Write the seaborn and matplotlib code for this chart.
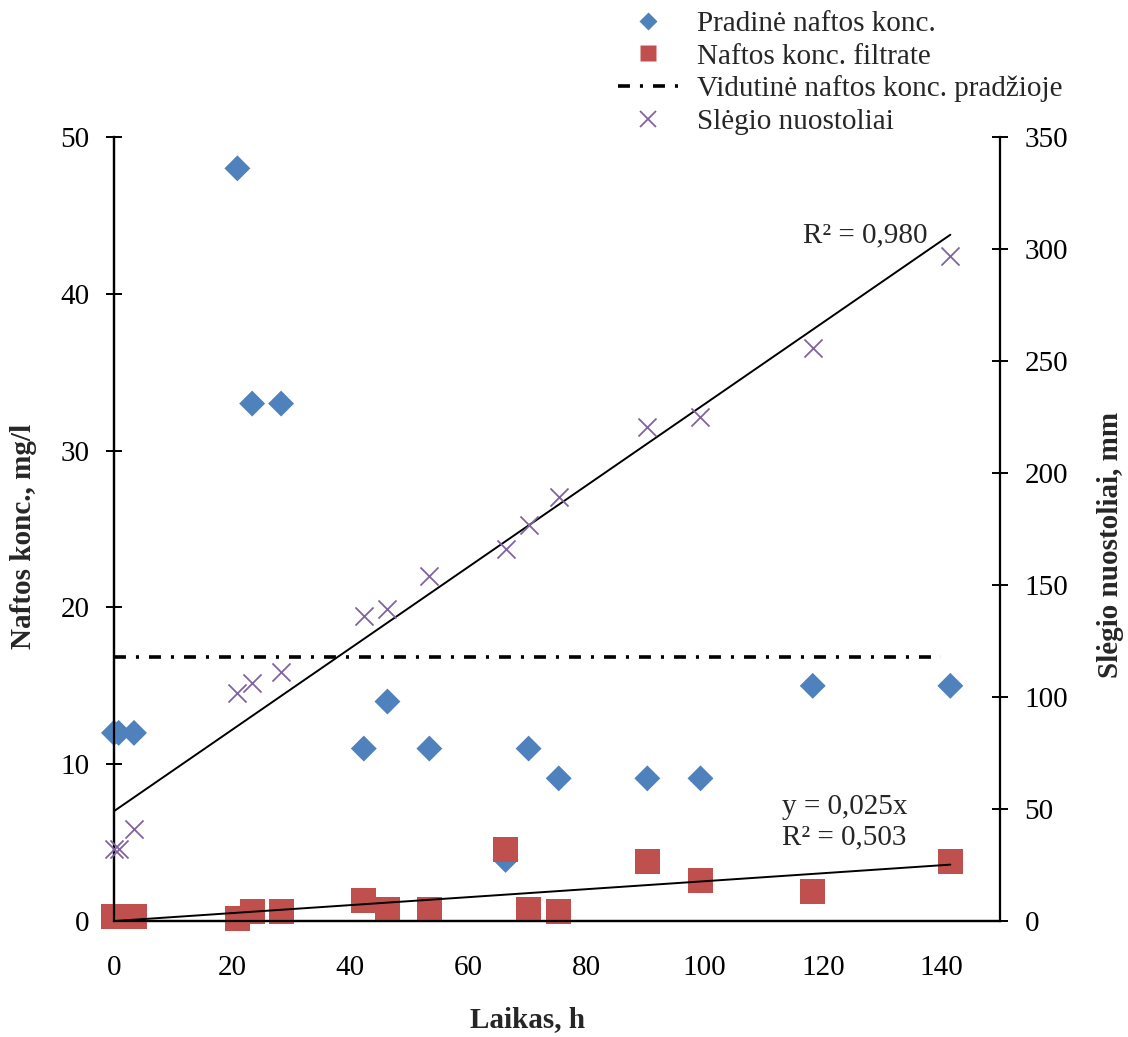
import numpy as np
import pandas as pd
import matplotlib
matplotlib.use("Agg")
import matplotlib.pyplot as plt
from matplotlib.lines import Line2D
import seaborn as sns

# ---------------- data ----------------
time_h = [0, 0.8, 3.4, 20.9, 23.4, 28.3, 42.3, 46.3, 53.4, 66.3, 70.2, 75.3, 90.3, 99.3, 118.3, 141.6]
initial_conc = [12, 12, 12, 48, 33, 33, 11, 14, 11, 3.9, 11, 9.1, 9.1, 9.1, 15, 15]
filtrate_conc = [0.27, 0.27, 0.27, 0.17, 0.59, 0.59, 1.28, 0.75, 0.75, 4.59, 0.75, 0.64, 3.78, 2.57, 1.87, 3.78]
pressure_loss = [32, 32, 41.1, 101.7, 106.1, 111, 136.2, 139.2, 154.1, 166.1, 176.8, 189.3, 220.4, 225.1, 255.9, 297]
avg_x = [0, 140]
avg_conc = [16.85, 16.85]

labels = ["Pradinė naftos konc.", "Naftos konc. filtrate",
          "Vidutinė naftos konc. pradžioje", "Slėgio nuostoliai"]
eq_filtrate = "y = 0,025x\nR² = 0,503"
eq_pressure = "R² = 0,980"
x_ticks = [0, 20, 40, 60, 80, 100, 120, 140]
y_ticks = [0, 10, 20, 30, 40, 50]
y2_ticks = [0, 50, 100, 150, 200, 250, 300, 350]

df = pd.DataFrame({"t": time_h, "init": initial_conc, "filt": filtrate_conc, "dp": pressure_loss})
avg_df = pd.DataFrame({"t": avg_x, "c": avg_conc})

# ---------------- style ----------------
sns.set_style("white")
plt.rcParams["font.family"] = ["Liberation Serif", "DejaVu Serif"]
plt.rcParams["lines.scale_dashes"] = False

BLUE = "#4F81BD"
RED = "#C0504D"
PURPLE = "#8064A2"
FS = 21

fig = plt.figure(figsize=(11.28, 10.37), dpi=100)
ax = fig.add_axes([0.101, 0.1118, 0.7855, 0.7561])
ax2 = ax.twinx()

# left axis series
sns.scatterplot(data=df, x="t", y="init", ax=ax, marker="D", s=13.2 ** 2, color=BLUE,
                edgecolor="none", clip_on=False, zorder=3)
sns.scatterplot(data=df, x="t", y="filt", ax=ax, marker="s", s=18 ** 2, color=RED,
                edgecolor="none", clip_on=False, zorder=4)
dashdot = (0, (8.6, 7.2, 2.2, 7.2))
sns.lineplot(data=avg_df, x="t", y="c", ax=ax, color="black", lw=2.6, linestyle=dashdot, zorder=2)

# through-origin trend for filtrate
t_arr = np.array(time_h)
f_arr = np.array(filtrate_conc)
slope0 = np.sum(t_arr * f_arr) / np.sum(t_arr ** 2)
fit_df = pd.DataFrame({"t": [0, t_arr.max()], "y": [0, slope0 * t_arr.max()]})
sns.lineplot(data=fit_df, x="t", y="y", ax=ax, color="black", lw=1.4, zorder=5)

# right axis series
sns.scatterplot(data=df, x="t", y="dp", ax=ax2, marker="x", s=13 ** 2, color=PURPLE,
                linewidth=1.3, clip_on=False, zorder=3)
sns.regplot(data=df, x="t", y="dp", ax=ax2, scatter=False, ci=None, truncate=True,
            line_kws=dict(color="black", lw=1.4))

# axes setup
ax.set_xlim(0, 150)
ax.set_ylim(0, 50)
ax2.set_ylim(0, 350)
ax.set_xticks(x_ticks)
ax.set_yticks(y_ticks)
ax2.set_yticks(y2_ticks)

for a in (ax, ax2):
    for sp in a.spines.values():
        sp.set_color("black")
        sp.set_linewidth(1.6)
    a.spines["top"].set_visible(False)
ax.spines["right"].set_visible(False)

ax.tick_params(axis="x", direction="inout", length=11.5, width=1.4, labelsize=FS, pad=19, colors="black")
ax.tick_params(axis="y", direction="inout", length=11.5, width=1.4, labelsize=FS, pad=12, colors="black")
ax2.tick_params(axis="y", direction="inout", length=11.5, width=1.4, labelsize=FS, pad=12, colors="black")

ax.set_xlabel("Laikas, h", fontsize=FS, fontweight="bold")
ax.set_ylabel("Naftos konc., mg/l", fontsize=FS, fontweight="bold")
ax2.set_ylabel("Slėgio nuostoliai, mm", fontsize=FS, fontweight="bold", rotation=90)
ax.xaxis.set_label_coords(0.467, -0.109)
ax.yaxis.set_label_coords(-0.087, 0.49)
ax2.yaxis.set_label_coords(1.1095, 0.48)

# annotations
ax.text(113.1, 6.3, eq_filtrate, fontsize=FS, ha="left", va="center", linespacing=1.2)
ax.text(116.6, 43.75, eq_pressure, fontsize=FS, ha="left", va="center")

# legend
handles = [
    Line2D([], [], ls="none", marker="D", ms=8.7, color=BLUE, mec="none"),
    Line2D([], [], ls="none", marker="s", ms=12, color=RED, mec="none"),
    Line2D([], [], color="black", lw=2.6, ls=dashdot),
    Line2D([], [], ls="none", marker="x", ms=12, color=PURPLE, mew=1.3),
]
fig.legend(handles, labels, loc="upper left", bbox_to_anchor=(618 / 1128, 1 - 11 / 1037),
           frameon=False, fontsize=FS, handlelength=2.07, handletextpad=0.65,
           labelspacing=0.2, borderpad=0, borderaxespad=0)

fig.savefig("out.png", dpi=100)
